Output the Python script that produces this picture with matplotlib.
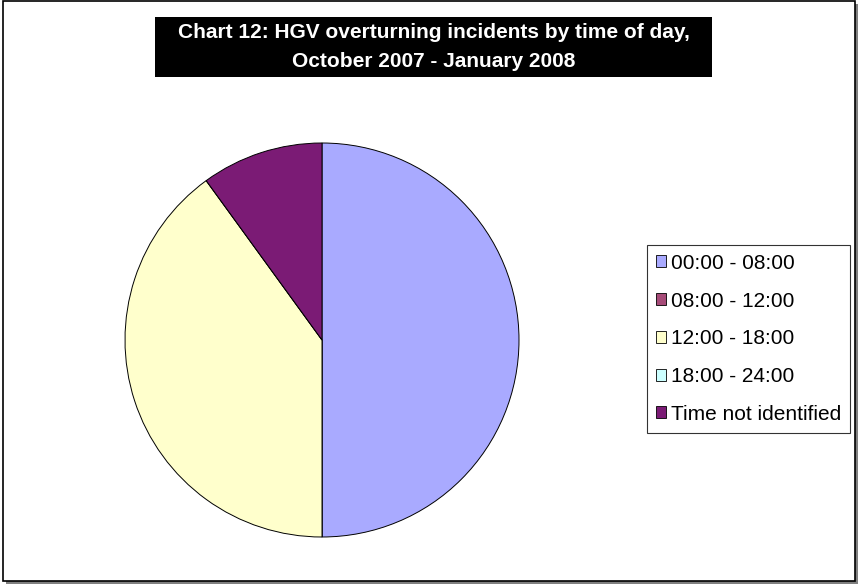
import matplotlib.pyplot as plt
from matplotlib.patches import Rectangle

# data
labels = ["00:00 - 08:00", "08:00 - 12:00", "12:00 - 18:00", "18:00 - 24:00", "Time not identified"]
values = [50, 0, 40, 0, 10]
colors = ["#A9AAFF", "#A64B78", "#FFFFCC", "#CCFFFF", "#7B1B75"]
title_text = "Chart 12: HGV overturning incidents by time of day,\nOctober 2007 - January 2008"

plt.rcParams['font.family'] = ['Liberation Sans', 'DejaVu Sans']

fig = plt.figure(figsize=(8.61, 5.88), dpi=100)
W, H = 861, 588

# outer frame with shadow
fig.patches.append(Rectangle((6 / W, 1 - 584 / H), 852 / W, 580 / H, transform=fig.transFigure,
                             facecolor="#808080", edgecolor="none", zorder=0))
fig.patches.append(Rectangle((3 / W, 1 - 581 / H), 852 / W, 580 / H, transform=fig.transFigure,
                             facecolor="white", edgecolor="black", linewidth=1.2, zorder=1))

# title box
fig.patches.append(Rectangle((155 / W, 1 - 77 / H), 557 / W, 60 / H, transform=fig.transFigure,
                             facecolor="black", edgecolor="none", zorder=2))
fig.text(434 / W, 1 - 47 / H, title_text, color="white", fontsize=15, fontweight="bold",
         ha="center", va="center", linespacing=1.7, zorder=3)

# pie
ax = fig.add_axes([125 / W, 1 - 537 / H, 394 / W, 394 / H])
wedges, _ = ax.pie(values, colors=colors, startangle=90, counterclock=False,
                   wedgeprops=dict(edgecolor="black", linewidth=0.7))
ax.set_xlim(-1, 1)
ax.set_ylim(-1, 1)
ax.set_aspect("equal")
ax.set_zorder(4)

# legend
leg = fig.legend(wedges, labels, loc="upper left", bbox_to_anchor=(647 / W, 1 - 245 / H),
                 fontsize=15, frameon=True, fancybox=False, edgecolor="black",
                 handlelength=0.5, handleheight=0.5, handletextpad=0.25,
                 labelspacing=0.9, borderpad=0.42, borderaxespad=0)
leg.get_frame().set_linewidth(0.8)
for h in leg.legend_handles:
    h.set_edgecolor("black")
    h.set_linewidth(0.6)
leg.set_zorder(5)

fig.savefig("out.png", dpi=100)
